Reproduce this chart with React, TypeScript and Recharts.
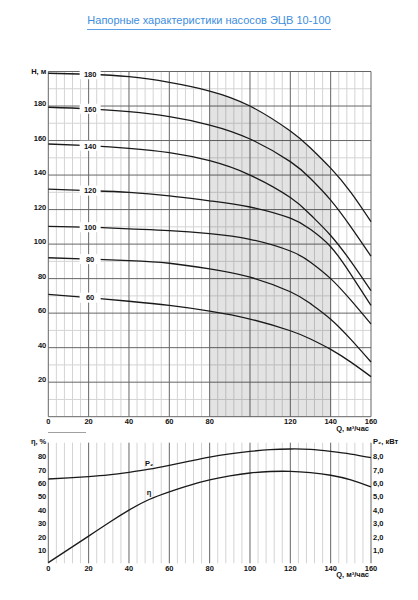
import React from "react";
import {
  Area,
  CartesianGrid,
  ComposedChart,
  Line,
  ReferenceDot,
  XAxis,
  YAxis,
} from "recharts";

// flow points, m3/h
const flow = [0, 20, 40, 60, 80, 100, 120, 130, 140, 150, 160];

// head curves, m (one per pump size)
const head180 = [199, 198.4, 197, 193.7, 188.7, 180, 165.5, 155.7, 144, 130, 113];
const head160 = [179.3, 178.4, 176.7, 173.8, 169, 160.9, 147.8, 138, 125.5, 110, 93];
const head140 = [158, 157, 155.5, 153, 148.3, 140, 127, 117, 105, 90, 73];
const head120 = [131.9, 131, 130, 128, 125.1, 121.5, 115, 108.5, 98.5, 82.5, 64.5];
const head100 = [110.3, 109.8, 108.8, 107.8, 106.1, 102.8, 96, 89.5, 80, 67.5, 53.7];
const head80 = [92.1, 91.3, 90.4, 88.9, 85.6, 80.8, 72.4, 65.5, 56.5, 44.8, 31.7];
const head60 = [70.9, 69, 66.9, 64.5, 61.2, 56.6, 49.8, 45, 39, 31.6, 23.2];

const curveNames = ["180", "160", "140", "120", "100", "80", "60"];
const curves = [head180, head160, head140, head120, head100, head80, head60];

// working zone
const zoneFrom = 80;
const zoneTo = 140;

// efficiency / power
const flow2 = [0, 10, 20, 30, 40, 50, 60, 70, 80, 90, 100, 110, 120, 130, 140, 150, 160];
const efficiency = [0.5, 10.4, 20.3, 30.3, 39.7, 47.6, 53.3, 58.2, 62.2, 65.2, 67.4, 68.5, 68.6, 67.6, 65.7, 62.2, 57];
const power = [6.29, 6.37, 6.47, 6.6, 6.79, 7.02, 7.31, 7.62, 7.93, 8.17, 8.35, 8.48, 8.53, 8.5, 8.35, 8.15, 7.88];

const xTicksTop = [0, 20, 40, 60, 80, 120, 140, 160];
const xTicksBottom = [0, 20, 40, 60, 80, 100, 120, 140, 160];
const yTicksTop = [20, 40, 60, 80, 100, 120, 140, 160, 180];
const yTicksEff = [10, 20, 30, 40, 50, 60, 70, 80];
const yTicksPow = [1, 2, 3, 4, 5, 6, 7, 8];

const headRows = flow.map((q, i) => {
  const row: Record<string, number> = { q };
  curves.forEach((c, k) => (row["h" + curveNames[k]] = c[i]));
  return row;
});
const effRows = flow2.map((q, i) => ({ q, eta: efficiency[i], p2: power[i] }));

const range = (from: number, to: number, step: number) => {
  const out: number[] = [];
  for (let v = from; v <= to + 1e-9; v += step) out.push(v);
  return out;
};
const minorX = range(0, 160, 4).filter((v) => v % 20 !== 0);
const majorX = range(0, 160, 20);
const minorYTop = range(10, 190, 20);
const majorYTop = range(0, 200, 20);
const majorYBottom = range(0, 90, 10);

const FONT = "'Liberation Sans', Arial, sans-serif";
const txt = { fontFamily: FONT, fontSize: 7.5, fontWeight: 700, fill: "#111" } as const;
const INK = "#1a1a1a";
const MAJOR = "#666";
const MINOR = "#d4d4d4";

const XTick = (p: any) => (
  <text x={p.x} y={p.y + 7.5} textAnchor="middle" {...txt}>
    {p.payload.value}
  </text>
);
const LeftTick = (dy: number) => (p: any) => (
  <text x={p.x} y={p.y + dy} textAnchor="end" {...txt}>
    {p.payload.value}
  </text>
);
const RightTick = (p: any) => (
  <text x={p.x} y={p.y + 3} textAnchor="start" {...txt}>
    {p.payload.value.toFixed(1).replace(".", ",")}
  </text>
);
const qLabel = (p: any) => (
  <text x={p.viewBox.x + p.viewBox.width - 2} y={p.viewBox.y + 14} textAnchor="end" {...txt}>
    Q, м³/час
  </text>
);

const CurveTag = (name: string) => (p: any) => (
  <g>
    <rect x={p.cx - 9} y={p.cy - 5} width={21} height={10} fill="#fff" />
    <text x={p.cx + 1.5} y={p.cy + 2.8} textAnchor="middle" {...txt}>
      {name}
    </text>
  </g>
);

const NoteText = (name: string) => (p: any) => (
  <text x={p.cx} y={p.cy + 2.5} textAnchor="middle" {...txt}>
    {name}
  </text>
);

function HeadChart() {
  return (
    <ComposedChart
      width={418}
      height={440}
      data={headRows}
      margin={{ top: 71.5, right: 47, bottom: 3.3, left: 8.3 }}
    >
      <defs>
        <linearGradient id="zone" x1="0" y1="0" x2="1" y2="0">
          <stop offset={zoneFrom / 160} stopColor="#000" stopOpacity={0} />
          <stop offset={zoneFrom / 160} stopColor="#000" stopOpacity={0.11} />
          <stop offset={zoneTo / 160} stopColor="#000" stopOpacity={0.11} />
          <stop offset={zoneTo / 160} stopColor="#000" stopOpacity={0} />
        </linearGradient>
      </defs>
      <Area
        dataKey="h180"
        type="natural"
        stroke="none"
        fill="url(#zone)"
        fillOpacity={1}
        activeDot={false}
        isAnimationActive={false}
      />
      <CartesianGrid
        stroke={MINOR}
        strokeWidth={1}
        verticalValues={minorX}
        horizontalValues={minorYTop}
        fill="none"
      />
      <CartesianGrid
        stroke={MAJOR}
        strokeWidth={1}
        verticalValues={majorX}
        horizontalValues={majorYTop}
        fill="none"
      />
      <XAxis
        dataKey="q"
        type="number"
        domain={[0, 160]}
        ticks={xTicksTop}
        height={20}
        axisLine={false}
        tickLine={false}
        tickSize={0}
        tickMargin={0}
        tick={XTick}
        interval={0}
        label={{ content: qLabel }}
      />
      <YAxis
        type="number"
        domain={[0, 200]}
        ticks={yTicksTop}
        width={40}
        axisLine={false}
        tickLine={false}
        tickSize={0}
        tickMargin={2}
        tick={LeftTick(0)}
        interval={0}
        label={{
          content: (p: any) => (
            <text x={p.viewBox.x + p.viewBox.width - 2} y={p.viewBox.y + 2.5} textAnchor="end" {...txt}>
              H, м
            </text>
          ),
        }}
      />
      {curveNames.map((n) => (
        <Line
          key={n}
          dataKey={"h" + n}
          type="natural"
          stroke={INK}
          strokeWidth={1.3}
          dot={false}
          activeDot={false}
          isAnimationActive={false}
        />
      ))}
      {curveNames.map((n, k) => (
        <ReferenceDot key={"t" + n} x={flow[1]} y={curves[k][1]} r={0} shape={CurveTag(n)} />
      ))}
    </ComposedChart>
  );
}

function EfficiencyChart() {
  return (
    <ComposedChart
      width={418}
      height={175}
      data={effRows}
      margin={{ top: 22.7, right: 7, bottom: 11.7, left: 8.3 }}
    >
      <CartesianGrid stroke={MINOR} verticalValues={minorX} horizontal={false} fill="none" />
      <CartesianGrid
        stroke={MAJOR}
        verticalValues={majorX}
        horizontalValues={majorYBottom}
        fill="none"
      />
      <XAxis
        dataKey="q"
        type="number"
        domain={[0, 160]}
        ticks={xTicksBottom}
        height={20}
        axisLine={false}
        tickLine={false}
        tickSize={0}
        tickMargin={0}
        tick={XTick}
        interval={0}
        label={{ content: qLabel }}
      />
      <YAxis
        yAxisId="eta"
        type="number"
        domain={[0, 90]}
        ticks={yTicksEff}
        width={40}
        axisLine={false}
        tickLine={false}
        tickSize={0}
        tickMargin={2}
        tick={LeftTick(3)}
        interval={0}
        label={{
          content: (p: any) => (
            <text x={p.viewBox.x + p.viewBox.width - 2} y={p.viewBox.y + 1} textAnchor="end" {...txt}>
              η, %
            </text>
          ),
        }}
      />
      <YAxis
        yAxisId="p2"
        orientation="right"
        type="number"
        domain={[0, 9]}
        ticks={yTicksPow}
        width={40}
        axisLine={false}
        tickLine={false}
        tickSize={0}
        tickMargin={2}
        tick={RightTick}
        interval={0}
        label={{
          content: (p: any) => (
            <text x={p.viewBox.x + 2} y={p.viewBox.y + 1} textAnchor="start" {...txt}>
              P₂, кВт
            </text>
          ),
        }}
      />
      <Line
        yAxisId="p2"
        dataKey="p2"
        type="natural"
        stroke={INK}
        strokeWidth={1.3}
        dot={false}
        activeDot={false}
        isAnimationActive={false}
      />
      <Line
        yAxisId="eta"
        dataKey="eta"
        type="natural"
        stroke={INK}
        strokeWidth={1.3}
        dot={false}
        activeDot={false}
        isAnimationActive={false}
      />
      <ReferenceDot yAxisId="p2" x={50} y={7.45} r={0} shape={NoteText("P₂")} />
      <ReferenceDot yAxisId="eta" x={50} y={53} r={0} shape={NoteText("η")} />
    </ComposedChart>
  );
}

export default function App() {
  return (
    <div style={{ position: "absolute", left: 0, top: 0, width: 418, height: 600, background: "#fff" }}>
      <div
        style={{
          position: "absolute",
          top: 14,
          left: 0,
          width: 418,
          textAlign: "center",
          fontFamily: FONT,
          fontSize: 11,
          lineHeight: "13px",
          color: "#3d8ee0",
        }}
      >
        <span style={{ display: "inline-block", paddingBottom: 2, borderBottom: "1px solid #5a9fe6" }}>
          Напорные характеристики насосов ЭЦВ 10-100
        </span>
      </div>
      <div style={{ position: "absolute", top: 0, left: 0 }}>
        <HeadChart />
      </div>
      <div style={{ position: "absolute", left: 48, top: 432, width: 38, height: 1, background: "#a0a0a0" }} />
      <div style={{ position: "absolute", top: 420, left: 0 }}>
        <EfficiencyChart />
      </div>
    </div>
  );
}
